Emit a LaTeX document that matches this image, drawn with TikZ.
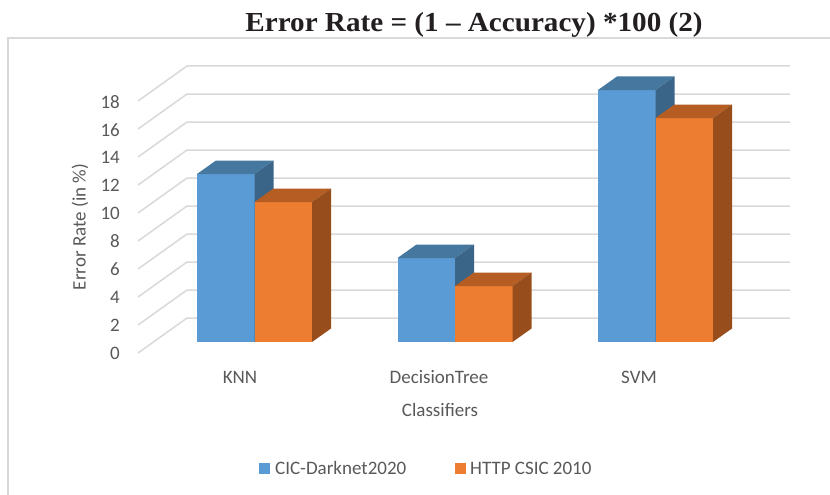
\documentclass[tikz,border=0pt]{standalone}
\usepackage{fontspec}
\setmainfont{Carlito}
\newfontfamily\titlefont{Liberation Serif}
\definecolor{gridc}{HTML}{D9D9D9}
\definecolor{txt}{HTML}{595959}
\definecolor{ttl}{HTML}{231F20}
\definecolor{bfront}{HTML}{5B9BD5}
\definecolor{btop}{HTML}{46789F}
\definecolor{bside}{HTML}{3B6588}
\definecolor{ofront}{HTML}{ED7D31}
\definecolor{otop}{HTML}{B55D22}
\definecolor{oside}{HTML}{974E1C}
\newcommand{\mybar}[5]{%
  \fill[#3] (#1,342) rectangle ({#1+57.5},{342-14*#2});
  \fill[#4] (#1,{342-14*#2}) -- ({#1+57.5},{342-14*#2}) -- ({#1+76.5},{328.5-14*#2}) -- ({#1+19},{328.5-14*#2}) -- cycle;
  \fill[#5] ({#1+57.5},342) -- ({#1+76.5},328.5) -- ({#1+76.5},{328.5-14*#2}) -- ({#1+57.5},{342-14*#2}) -- cycle;
}
\tikzset{
  lbl/.style={text=txt, font=\fontsize{19}{22}\selectfont, inner sep=0pt},
  tick/.style={lbl, anchor=east},
  grid line/.style={draw=gridc, line width=1.5pt},
  frame line/.style={draw=gridc, line width=2pt},
}
\begin{document}
\begin{tikzpicture}[x=1pt,y=-1pt]
\useasboundingbox (0,0) rectangle (830,495);
\fill[white] (0,0) rectangle (830,495);
% frame
\draw[frame line] (8,495) -- (8,38) -- (830,38);
% title
\node[anchor=base, inner sep=0pt, text=ttl, xscale=1.06, font=\titlefont\bfseries\fontsize{27.5}{32}\selectfont] (title) at (474,32) {Error Rate = (1 – Accuracy) *100 (2)};
% gridlines and ticks
\foreach \v in {0,2,...,18} {
  \draw[grid line] (138,{353-14*\v}) -- (187,{318-14*\v}) -- (790,{318-14*\v});
  \node[tick] (t\v) at (120,{353-13.94*\v}) {\v};
}
% bars
\mybar{197}{12}{bfront}{btop}{bside}
\mybar{254.5}{10}{ofront}{otop}{oside}
\mybar{397.5}{6}{bfront}{btop}{bside}
\mybar{455}{4}{ofront}{otop}{oside}
\mybar{598}{18}{bfront}{btop}{bside}
\mybar{655.5}{16}{ofront}{otop}{oside}
% axis labels
\node[lbl, rotate=90] (ytitle) at (80,227) {Error Rate (in \%)};
\node[lbl] (c1) at (240,377) {KNN};
\node[lbl] (c2) at (439,377) {DecisionTree};
\node[lbl] (c3) at (639,377) {SVM};
\node[lbl] (xtitle) at (440,410) {Classifiers};
% legend
\fill[bfront] (259,462.5) rectangle (270,473.5);
\node[lbl, anchor=west] (l1) at (275,468) {CIC-Darknet2020};
\fill[ofront] (455,462.5) rectangle (466,473.5);
\node[lbl, anchor=west] (l2) at (470,468) {HTTP CSIC 2010};
\end{tikzpicture}
\end{document}
